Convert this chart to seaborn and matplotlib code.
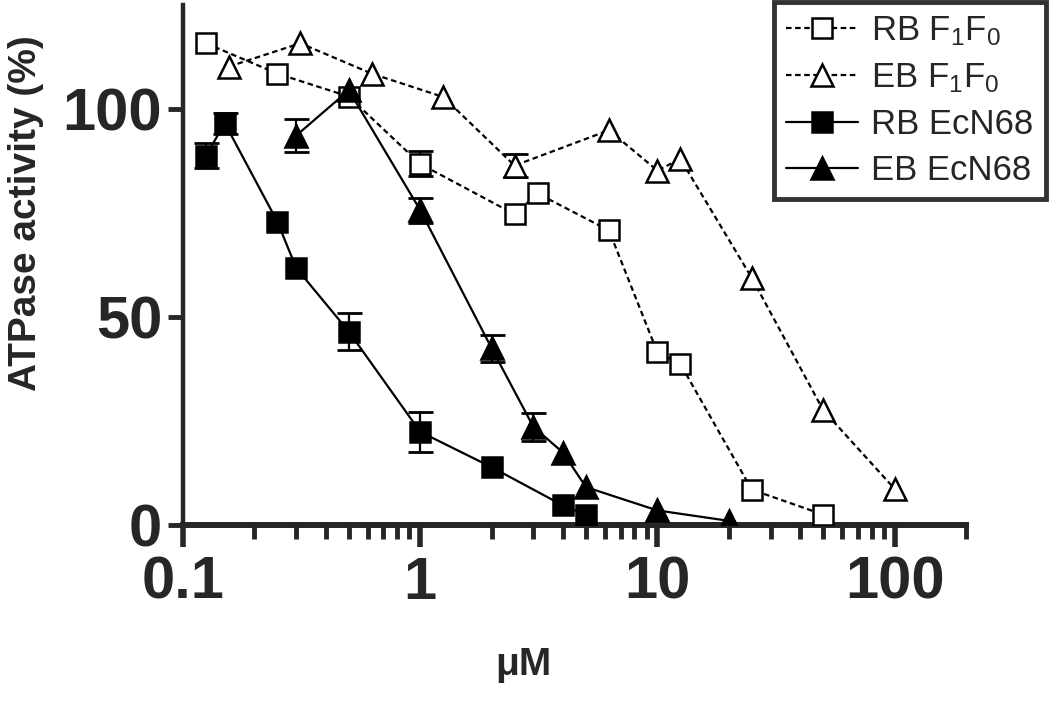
import matplotlib
matplotlib.use("Agg")
import matplotlib.pyplot as plt
from matplotlib.ticker import FixedLocator, FixedFormatter, LogLocator, NullFormatter
import numpy as np
import pandas
import seaborn

# concentrations (uM) and activities (%)
RB_F1F0_X = [0.125, 0.25, 0.5, 1, 2.5, 3.125, 6.25, 10, 12.5, 25, 50]
RB_F1F0_Y = [115.8, 108.5, 103.0, 86.8, 74.7, 79.7, 70.8, 41.5, 38.7, 8.5, 2.5]
RB_F1F0_ERR = [0, 0, 0, 3.0, 0, 0, 0, 0, 0, 0, 0]

EB_F1F0_X = [0.156, 0.3125, 0.625, 1.25, 2.5, 6.25, 10, 12.5, 25, 50, 100]
EB_F1F0_Y = [110.2, 115.8, 108.5, 102.9, 86.4, 94.9, 85.2, 88.0, 59.4, 27.6, 8.7]
EB_F1F0_ERR = [0, 0, 0, 0, 2.8, 0, 0, 0, 0, 0, 0]

RB_ECN68_X = [0.125, 0.15, 0.25, 0.3, 0.5, 1, 2, 4, 5]
RB_ECN68_Y = [88.8, 96.6, 72.9, 61.8, 46.5, 22.4, 13.9, 4.7, 2.4]
RB_ECN68_ERR = [3.1, 2.5, 0, 0, 4.4, 4.8, 0, 0, 0]

EB_ECN68_X = [0.3, 0.5, 1, 2, 3, 4, 5, 10, 20]
EB_ECN68_Y = [93.6, 104.5, 75.7, 42.5, 23.6, 17.4, 9.1, 3.5, 1.0]
EB_ECN68_ERR = [4.0, 0, 3.0, 3.2, 3.3, 0, 0, 0, 0]

XTICKS = [0.1, 1, 10, 100]
XTICK_LABELS = ["0.1", "1", "10", "100"]
YTICKS = [0, 50, 100]

DOTTED = (0, (2.5, 1.6))

SERIES = [
    ("RB F$_{1}$F$_{0}$", RB_F1F0_X, RB_F1F0_Y, RB_F1F0_ERR, "s", "white", DOTTED),
    ("EB F$_{1}$F$_{0}$", EB_F1F0_X, EB_F1F0_Y, EB_F1F0_ERR, "^", "white", DOTTED),
    ("RB EcN68", RB_ECN68_X, RB_ECN68_Y, RB_ECN68_ERR, "s", "black", "-"),
    ("EB EcN68", EB_ECN68_X, EB_ECN68_Y, EB_ECN68_ERR, "^", "black", "-"),
]

seaborn.set_style("ticks")
plt.rcParams["font.family"] = ["Liberation Sans", "DejaVu Sans"]
plt.rcParams["mathtext.fontset"] = "custom"
plt.rcParams["mathtext.rm"] = "Liberation Sans"
plt.rcParams["mathtext.it"] = "Liberation Sans:italic"
plt.rcParams["mathtext.bf"] = "Liberation Sans:bold"

fig = plt.figure(figsize=(10.5, 7.03), dpi=100)
ax = fig.add_axes([183 / 1050, 1 - 525 / 703, (966 - 183) / 1050, 520 / 703])

for label, xs, ys, errs, marker, face, ls in SERIES:
    df = pandas.DataFrame({"x": xs, "y": ys, "err": errs})
    err_df = df[df["err"] > 0]
    if len(err_df):
        ax.errorbar(err_df["x"], err_df["y"], yerr=err_df["err"], fmt="none",
                    ecolor="black", elinewidth=1.6, capsize=9, capthick=2, zorder=2)
    seaborn.lineplot(data=df, x="x", y="y", ax=ax, color="black",
                     marker=marker, markersize=15 if marker == "s" else 16,
                     markerfacecolor=face, markeredgecolor="black",
                     markeredgewidth=1.8, linestyle=ls, linewidth=1.6,
                     label=label, sort=False, errorbar=None, zorder=3)

ax.set_xscale("log")
ax.set_xlim(0.1, 200)
ax.set_ylim(0, 125)

ax.xaxis.set_major_locator(FixedLocator(XTICKS))
ax.xaxis.set_major_formatter(FixedFormatter(XTICK_LABELS))
ax.xaxis.set_minor_locator(LogLocator(base=10, subs=np.arange(2, 10)))
ax.xaxis.set_minor_formatter(NullFormatter())
ax.set_yticks(YTICKS)
ax.set_yticklabels([str(v) for v in YTICKS])

for lab in ax.get_xticklabels() + ax.get_yticklabels():
    lab.set_fontweight("bold")
    lab.set_fontsize(43)

ax.tick_params(axis="x", which="major", length=16, width=4, direction="out", pad=6)
ax.tick_params(axis="x", which="minor", length=10, width=3.5, direction="out")
ax.tick_params(axis="y", which="major", length=11, width=3.5, direction="out", pad=4)
ax.tick_params(axis="y", which="minor", left=False)

seaborn.despine(ax=ax)
ax.spines["bottom"].set_linewidth(4.3)
ax.spines["left"].set_linewidth(3.2)

ax.set_xlabel("\u03bcM", fontsize=28, fontweight="bold")
ax.xaxis.set_label_coords((523 - 183) / 783, -0.235)
ax.set_ylabel("ATPase activity (%)", fontsize=28, fontweight="bold")
ax.yaxis.set_label_coords(-0.178, 0.60)

handles, labels = ax.get_legend_handles_labels()
ax.get_legend().remove()
leg = fig.legend(handles, labels, loc="upper right", bbox_to_anchor=(0.996, 0.997),
                 frameon=True, fancybox=False, fontsize=25, numpoints=1,
                 handlelength=2.05, handletextpad=0.4, labelspacing=0.38,
                 borderpad=0.35, borderaxespad=0)
leg.get_frame().set_edgecolor("black")
leg.get_frame().set_linewidth(3.5)

fig.savefig("out.png", dpi=100)
